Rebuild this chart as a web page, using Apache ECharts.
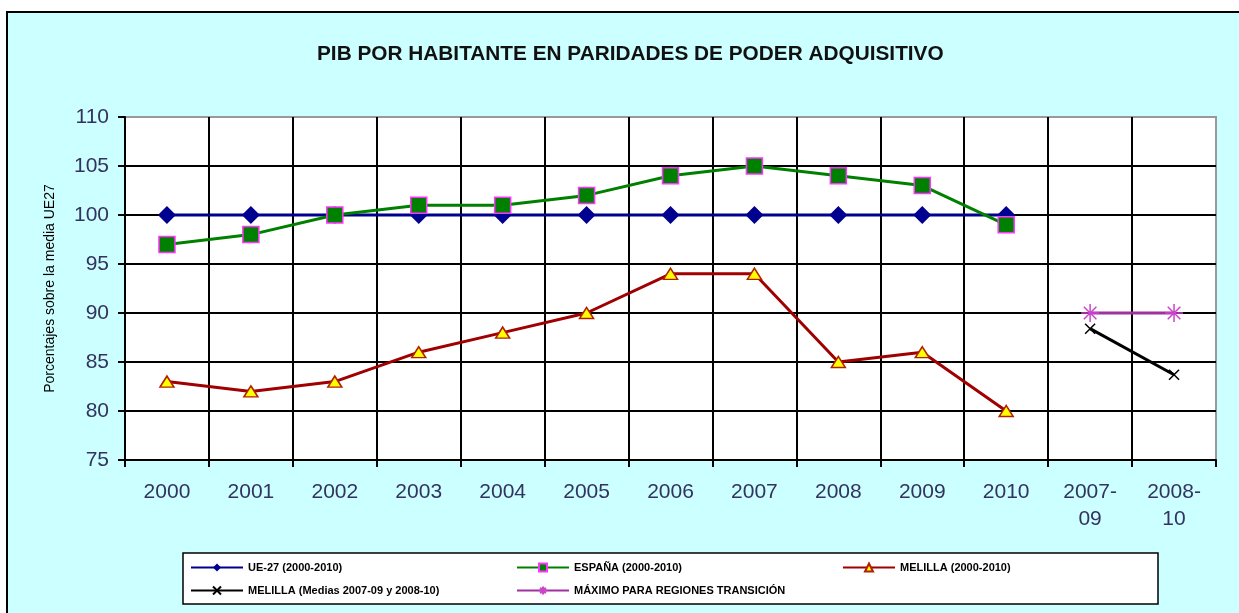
<!DOCTYPE html>
<html>
<head>
<meta charset="utf-8">
<script src="https://cdn.jsdelivr.net/npm/echarts@6/dist/echarts.min.js"></script>
<style>html,body{margin:0;padding:0;background:#fff;}#c{width:1239px;height:613px;}</style>
</head>
<body>
<div id="c"></div>
<script>
const categories = ['2000','2001','2002','2003','2004','2005','2006','2007','2008','2009','2010','2007-\n09','2008-\n10'];
const ue27 = [100,100,100,100,100,100,100,100,100,100,100,'-','-'];
const espana = [97,98,100,101,101,102,104,105,104,103,99,'-','-'];
const melilla = [83,82,83,86,88,90,94,94,85,86,80,'-','-'];
const melillaMedias = ['-','-','-','-','-','-','-','-','-','-','-',88.4,83.7];
const maximoTransicion = ['-','-','-','-','-','-','-','-','-','-','-',90,90];
const yTicks = {min:75, max:110, interval:5};
const names = ['UE-27 (2000-2010)','ESPAÑA (2000-2010)','MELILLA (2000-2010)','MELILLA (Medias 2007-09 y 2008-10)','MÁXIMO PARA REGIONES TRANSICIÓN'];

const chart = echarts.init(document.getElementById('c'));
const labelColor = '#33335f';
const legendText = {fontFamily:'Liberation Sans, Arial, sans-serif', fontSize:11, fontWeight:'bold', color:'#000'};
function lg(name, left, top){
  return {data:[name], left:left, top:top, itemWidth:52, itemHeight:10, itemGap:0, padding:0, textStyle:legendText};
}
chart.setOption({
  backgroundColor:'#fff',
  animation:false,
  graphic:{elements:[
    {type:'rect', z:-10, shape:{x:7,y:12,width:1300,height:700}, style:{fill:'#ccffff', stroke:'#000', lineWidth:2}},
    {type:'rect', z:1, shape:{x:183,y:553,width:975,height:51}, style:{fill:'#fff', stroke:'#000', lineWidth:1.5}}
  ]},
  title:{text:'PIB POR HABITANTE EN PARIDADES DE PODER ADQUISITIVO', left:312, top:39,
    textStyle:{fontFamily:'Liberation Sans, Arial, sans-serif', fontSize:20.8, fontWeight:'bold', color:'#111'}},
  legend:[lg(names[0],190,562), lg(names[1],516,562), lg(names[2],842,562), lg(names[3],190,584), lg(names[4],516,584)],
  grid:{left:125, right:23, top:117, bottom:153, show:true, backgroundColor:'#fff', borderColor:'#999', borderWidth:2},
  xAxis:{type:'category', data:categories, boundaryGap:true,
    axisLine:{lineStyle:{color:'#000', width:2}},
    axisTick:{show:true, length:7, lineStyle:{color:'#000', width:2}},
    axisLabel:{color:labelColor, fontFamily:'Liberation Sans, Arial, sans-serif', fontSize:21, margin:19, lineHeight:27},
    splitLine:{show:true, showMinLine:false, showMaxLine:false, lineStyle:{color:'#000', width:2}}
  },
  yAxis:{type:'value', min:yTicks.min, max:yTicks.max, interval:yTicks.interval,
    name:'Porcentajes sobre la media UE27', nameLocation:'middle', nameGap:68, nameRotate:90,
    nameTextStyle:{fontFamily:'Liberation Sans, Arial, sans-serif', fontSize:14, color:'#000'},
    axisLine:{show:true, lineStyle:{color:'#000', width:2}},
    axisTick:{show:true, length:7, lineStyle:{color:'#000', width:2}},
    axisLabel:{color:labelColor, fontFamily:'Liberation Sans, Arial, sans-serif', fontSize:21, margin:16},
    splitLine:{show:true, showMinLine:false, showMaxLine:false, lineStyle:{color:'#000', width:2}}
  },
  series:[
    {name:names[0], type:'line', data:ue27, lineStyle:{color:'#000090', width:3}, symbol:'diamond', symbolSize:[18,18],
      itemStyle:{color:'#000090'}, z:2},
    {name:names[1], type:'line', data:espana, lineStyle:{color:'#008000', width:3}, symbol:'rect', symbolSize:16,
      itemStyle:{color:'#008000', borderColor:'#ff33ff', borderWidth:1.5}, z:3},
    {name:names[2], type:'line', data:melilla, lineStyle:{color:'#a00000', width:3}, symbol:'triangle', symbolSize:[14,11],
      itemStyle:{color:'#ffff00', borderColor:'#b02000', borderWidth:1.5}, z:4},
    {name:names[3], type:'line', data:melillaMedias, lineStyle:{color:'#000', width:3}, symbol:'path://M0,0L10,10M10,0L0,10', symbolSize:10,
      itemStyle:{color:'none', borderColor:'#000', borderWidth:1.5}, z:5},
    {name:names[4], type:'line', data:maximoTransicion, lineStyle:{color:'#a030a0', width:3}, symbol:'path://M0,5L10,5M5,0L5,10M1.5,1.5L8.5,8.5M8.5,1.5L1.5,8.5', symbolSize:18,
      itemStyle:{color:'none', borderColor:'#cc44cc', borderWidth:1.5}, z:6}
  ]
});
</script>
</body>
</html>
